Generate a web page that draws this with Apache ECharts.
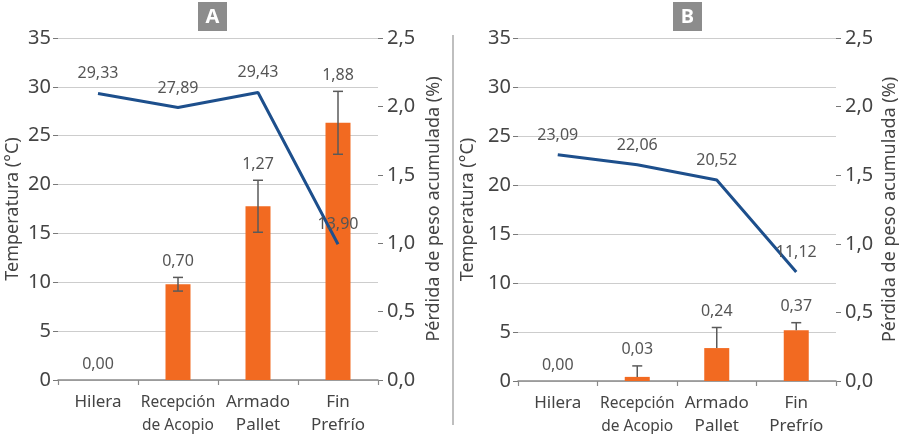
<!DOCTYPE html>
<html>
<head>
<meta charset="utf-8">
<script src="https://cdn.jsdelivr.net/npm/echarts@6/dist/echarts.min.js"></script>
<style>
html,body{margin:0;padding:0;background:#fff;}
#c{width:900px;height:434px;}
</style>
</head>
<body>
<div id="c"></div>
<script>
// ---- data ----
const categories = ['Hilera', 'Recepción\nde Acopio', 'Armado\nPallet', 'Fin\nPrefrío'];
const tempA = [29.33, 27.89, 29.43, 13.90];
const lossA = [0.00, 0.70, 1.27, 1.88];
const errPlusA = [0, 0.05, 0.19, 0.23];
const errMinusA = [0, 0.05, 0.19, 0.23];
const tempB = [23.09, 22.06, 20.52, 11.12];
const lossB = [0.00, 0.03, 0.24, 0.37];
const errPlusB = [0, 0.08, 0.15, 0.055];
const errMinusB = [0, 0, 0, 0];
const panelTitles = ['A', 'B'];
const leftAxisName = 'Temperatura (°C)';
const rightAxisName = 'Pérdida de peso acumulada (%)';

// ---- styles ----
const FONT = 'Noto Sans';
const ORANGE = '#f26a21';
const BLUE = '#1d4f8c';
const TXT = '#444';
const LBL = '#555';
const fmt2 = v => v.toFixed(2).replace('.', ',');

function catLabelFormatter(v) {
  if (v.indexOf('Recepción') === 0) {
    return v.split('\n').map(s => '{n|' + s + '}').join('\n');
  }
  return v;
}

function xAxis(gi) {
  return {
    type: 'category', gridIndex: gi, data: categories,
    axisLine: {show: true, lineStyle: {color: '#8a8a8a', width: 1.5}},
    axisTick: {show: true, length: 5, lineStyle: {color: '#8a8a8a', width: 1.2}},
    axisLabel: {
      color: TXT, fontFamily: FONT, fontSize: 17, lineHeight: 23, margin: 11,
      interval: 0, formatter: catLabelFormatter,
      rich: {n: {fontFamily: FONT, fontSize: 15.5, lineHeight: 23, color: TXT}}
    }
  };
}
function yLeft(gi, gap) {
  return {
    type: 'value', gridIndex: gi, min: 0, max: 35, interval: 5,
    name: leftAxisName, nameLocation: 'middle', nameRotate: 90, nameGap: gap,
    nameTextStyle: {color: TXT, fontFamily: FONT, fontSize: 18},
    axisLine: {show: false},
    axisTick: {show: true, length: 5, lineStyle: {color: '#777'}},
    axisLabel: {color: TXT, fontFamily: FONT, fontSize: 20, margin: 7},
    splitLine: {show: true, lineStyle: {color: '#cdcdcd', width: 1}}
  };
}
function yRight(gi, gap) {
  return {
    type: 'value', gridIndex: gi, position: 'right', min: 0, max: 2.5, interval: 0.5,
    name: rightAxisName, nameLocation: 'middle', nameRotate: 90, nameGap: gap,
    nameTextStyle: {color: TXT, fontFamily: FONT, fontSize: 18},
    axisLine: {show: false},
    axisTick: {show: true, length: 5, lineStyle: {color: '#777'}},
    axisLabel: {color: TXT, fontFamily: FONT, fontSize: 20, margin: 9,
      formatter: v => v.toFixed(1).replace('.', ',')},
    splitLine: {show: false}
  };
}

function errRender(params, api) {
  const x = api.value(0), v = api.value(1), lo = api.value(2), hi = api.value(3);
  const pT = api.coord([x, hi]);
  const pB = api.coord([x, lo]);
  const children = [];
  const cap = 5;
  const ls = {stroke: '#5a5a5a', lineWidth: 1.5};
  if (hi > lo) {
    children.push({type: 'line', shape: {x1: pT[0], y1: pT[1], x2: pB[0], y2: pB[1]}, style: ls});
    children.push({type: 'line', shape: {x1: pT[0] - cap, y1: pT[1], x2: pT[0] + cap, y2: pT[1]}, style: ls});
    if (lo < v) {
      children.push({type: 'line', shape: {x1: pB[0] - cap, y1: pB[1], x2: pB[0] + cap, y2: pB[1]}, style: ls});
    }
  }
  children.push({type: 'text', style: {
    text: fmt2(v), x: pT[0], y: pT[1] - 16, align: 'center', verticalAlign: 'middle',
    fill: LBL, fontSize: 16, fontFamily: FONT
  }});
  return {type: 'group', children: children};
}

function panelSeries(gi, temp, loss, ep, em) {
  const xi = gi, yl = gi * 2, yr = gi * 2 + 1;
  return [
    {
      type: 'bar', xAxisIndex: xi, yAxisIndex: yr, data: loss, barWidth: 25,
      itemStyle: {color: ORANGE}, z: 2
    },
    {
      type: 'custom', xAxisIndex: xi, yAxisIndex: yr, z: 3, clip: false,
      renderItem: errRender,
      data: loss.map((v, i) => [i, v, v - em[i], v + ep[i]])
    },
    {
      type: 'line', xAxisIndex: xi, yAxisIndex: yl, data: temp, z: 5,
      showSymbol: true, symbol: 'circle', symbolSize: 1,
      itemStyle: {color: BLUE, opacity: 0},
      lineStyle: {color: BLUE, width: 3},
      label: {show: true, position: 'top', distance: 11, color: LBL, fontFamily: FONT, fontSize: 16,
        opacity: 1, formatter: p => fmt2(p.value)}
    }
  ];
}

const chart = echarts.init(document.getElementById('c'), null, {renderer: 'canvas'});
chart.setOption({
  animation: false,
  backgroundColor: '#fff',
  textStyle: {fontFamily: FONT},
  grid: [
    {left: 58, right: 522, top: 38, bottom: 54, containLabel: false, outerBoundsMode: 'none'},
    {left: 518, right: 64, top: 38, bottom: 53, containLabel: false, outerBoundsMode: 'none'}
  ],
  xAxis: [xAxis(0), xAxis(1)],
  yAxis: [yLeft(0, 36), yRight(0, 47), yLeft(1, 41), yRight(1, 45)],
  series: [].concat(
    panelSeries(0, tempA, lossA, errPlusA, errMinusA),
    panelSeries(1, tempB, lossB, errPlusB, errMinusB)
  ),
  graphic: [
    {type: 'rect', left: 198, top: 2, shape: {width: 29, height: 29}, style: {fill: '#8c8c8c'}},
    {type: 'text', x: 212.5, y: 17, style: {text: panelTitles[0], fill: '#fff', fontSize: 20, fontWeight: 'bold',
      fontFamily: FONT, align: 'center', verticalAlign: 'middle'}},
    {type: 'rect', left: 673, top: 2, shape: {width: 29, height: 29}, style: {fill: '#8c8c8c'}},
    {type: 'text', x: 687.5, y: 17, style: {text: panelTitles[1], fill: '#fff', fontSize: 20, fontWeight: 'bold',
      fontFamily: FONT, align: 'center', verticalAlign: 'middle'}},
    {type: 'line', shape: {x1: 453, y1: 35, x2: 453, y2: 425}, style: {stroke: '#aaaaaa', lineWidth: 1.5}}
  ]
});
</script>
</body>
</html>
